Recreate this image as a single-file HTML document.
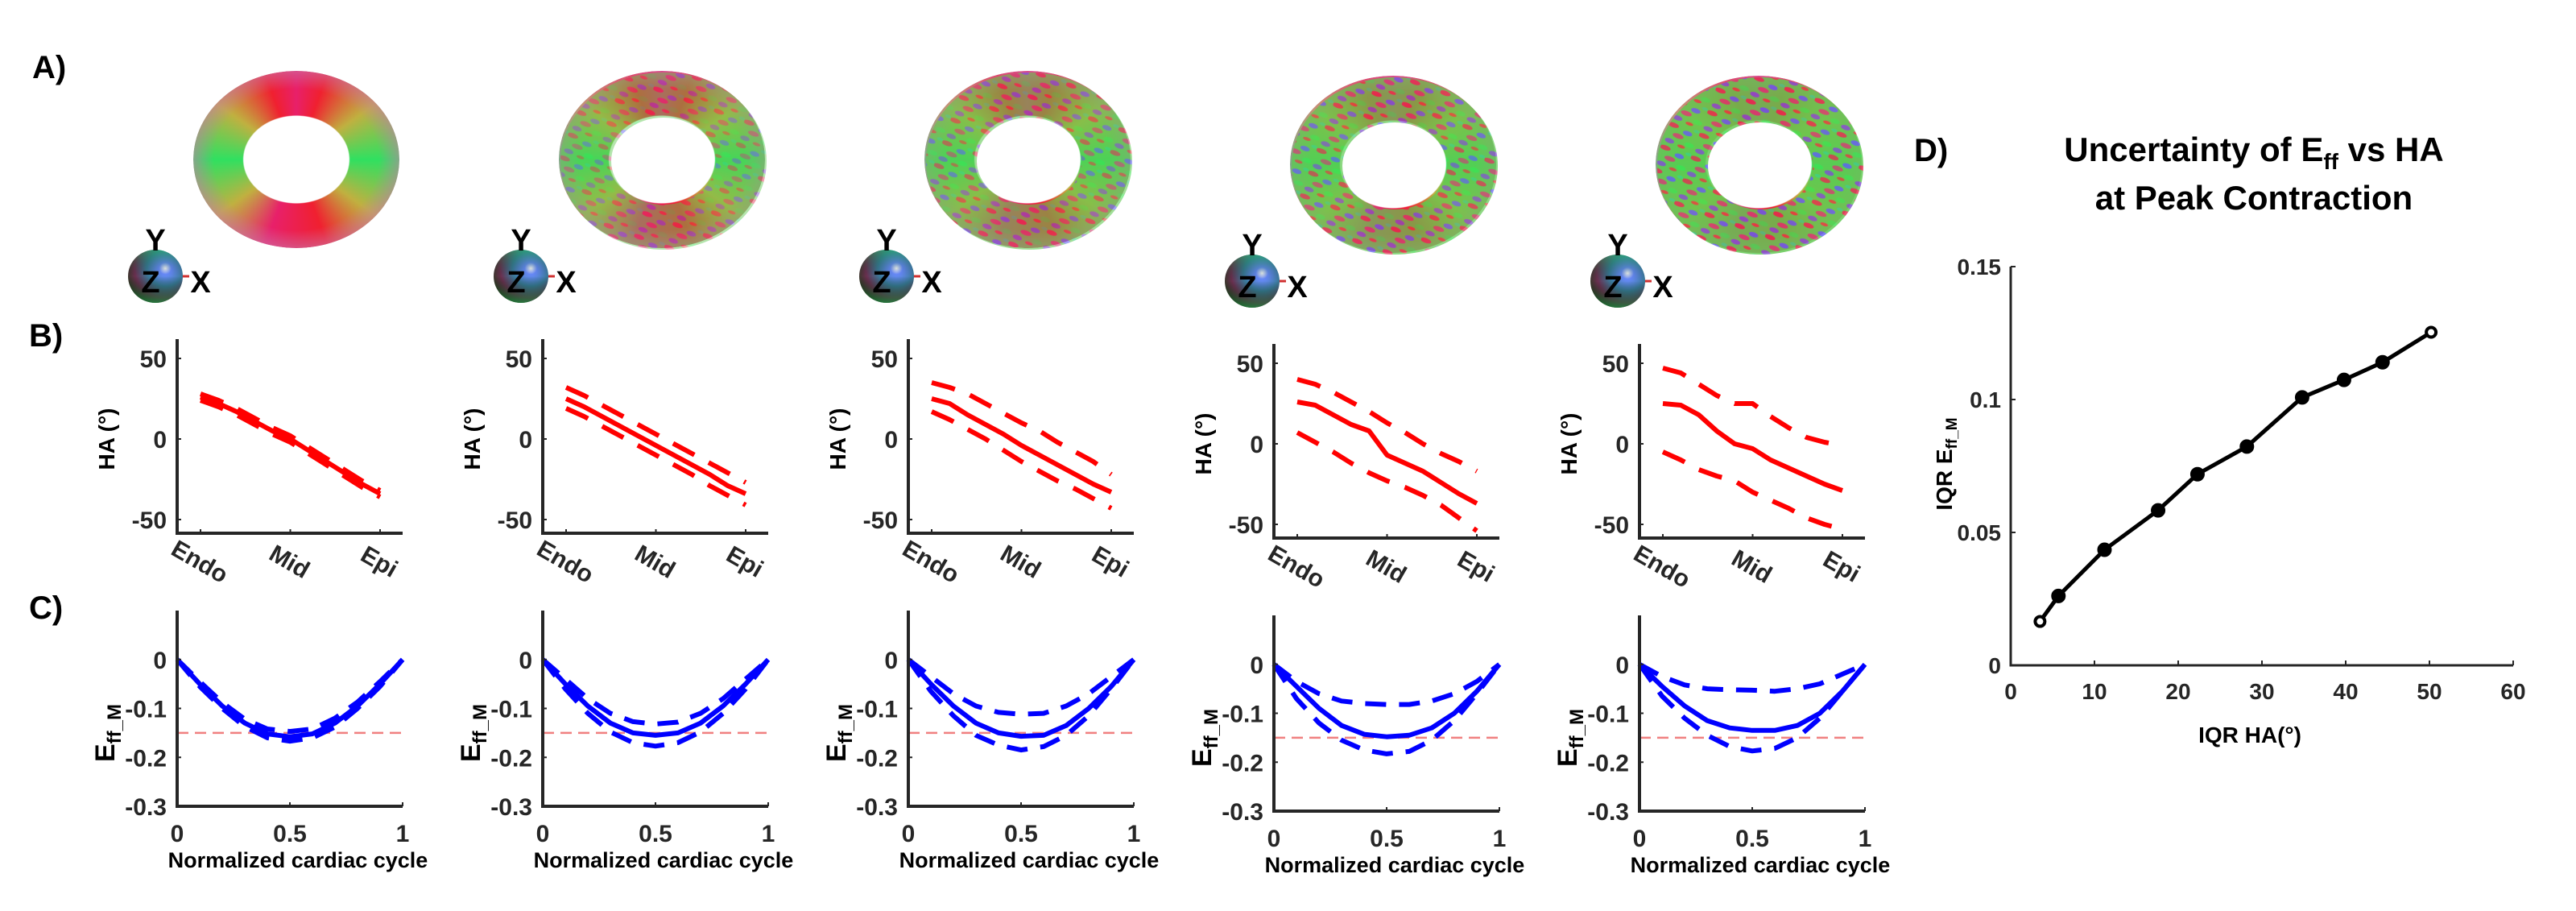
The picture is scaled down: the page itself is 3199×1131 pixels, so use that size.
<!DOCTYPE html>
<html><head><meta charset="utf-8">
<style>
html,body{margin:0;padding:0;background:#fff;}
svg{display:block;font-family:"Liberation Sans",Arial,sans-serif;}
.tk{font-size:30px;font-weight:bold;fill:#262626;}
.lbl{font-size:30px;font-weight:bold;fill:#000;}
.pl{font-size:40px;font-weight:bold;fill:#000;}
</style></head>
<body>
<svg id="fig" width="3199" height="1131" viewBox="0 0 3199 1131" xmlns="http://www.w3.org/2000/svg">
<defs>
<radialGradient id="sph" cx="0.68" cy="0.35" r="0.75">
<stop offset="0" stop-color="#ffffff"/>
<stop offset="0.15" stop-color="#6a8cff"/>
<stop offset="0.45" stop-color="#3a7a9a"/>
<stop offset="0.75" stop-color="#6a3050"/>
<stop offset="1" stop-color="#2a3a20"/>
</radialGradient>
<linearGradient id="sphg" x1="0" y1="0" x2="0" y2="1">
<stop offset="0" stop-color="#20c060" stop-opacity="0.5"/>
<stop offset="0.5" stop-color="#000" stop-opacity="0"/>
<stop offset="1" stop-color="#10a040" stop-opacity="0.6"/>
</linearGradient>
<pattern id="noise" width="40" height="30" patternUnits="userSpaceOnUse" patternTransform="rotate(20)">
<rect width="40" height="30" fill="#60c850"/>
<ellipse cx="6" cy="5" rx="7" ry="3" fill="#e03050"/>
<ellipse cx="26" cy="9" rx="6" ry="3" fill="#6060f0"/>
<ellipse cx="16" cy="16" rx="7" ry="3" fill="#d04070"/>
<ellipse cx="33" cy="22" rx="6" ry="3" fill="#40e050"/>
<ellipse cx="8" cy="25" rx="6" ry="3" fill="#8050d0"/>
<ellipse cx="24" cy="27" rx="5" ry="2" fill="#e04040"/>
<ellipse cx="36" cy="3" rx="4" ry="2" fill="#40d080"/>
</pattern>
</defs>
<text class="pl" x="40" y="97">A)</text>
<text class="pl" x="36" y="430">B)</text>
<text class="pl" x="36" y="768">C)</text>
<text class="pl" x="2377" y="200">D)</text>
<text x="2799" y="200" text-anchor="middle" style="font-size:42px;font-weight:bold">Uncertainty of E<tspan font-size="28" dy="10">ff</tspan><tspan dy="-10"> vs HA</tspan></text>
<text x="2799" y="260" text-anchor="middle" style="font-size:42px;font-weight:bold">at Peak Contraction</text>
<g id="tori"></g>
<g id="charts"></g>
</svg>
<script>
// ---- Panel B data (HA vs transmural depth) ----
const depthPos = [0,0.1,0.2,0.3,0.4,0.5,0.6,0.7,0.8,0.9,1];
const haTicks = [-50,0,50];
const depthLabels = ["Endo","Mid","Epi"];
const haMean1 = [26,22,17,11,5,0,-7,-14,-21,-28,-34];
const haUp1   = [28,24,19,13,7,2,-5,-12,-19,-26,-32];
const haLo1   = [24,20,15,9,3,-2,-9,-16,-23,-30,-36];
const haMean2 = [25,20,14,8,2,-4,-10,-16,-22,-29,-34];
const haUp2   = [32,27,21,15,9,3,-3,-9,-15,-21,-27];
const haLo2   = [19,14,8,2,-4,-10,-16,-22,-29,-35,-41];
const haMean3 = [25,22,15,9,3,-4,-10,-16,-22,-28,-33];
const haUp3   = [35,32,28,22,16,10,5,-2,-8,-14,-22];
const haLo3   = [17,12,6,0,-7,-14,-20,-26,-31,-37,-43];
const haMean4 = [26,24,18,12,8,-7,-12,-17,-24,-31,-37];
const haUp4   = [40,37,32,26,20,13,7,0,-6,-11,-17];
const haLo4   = [7,1,-5,-12,-18,-23,-27,-32,-38,-46,-54];
const haMean5 = [25,24,18,8,0,-3,-10,-15,-20,-25,-29];
const haUp5   = [47,44,37,30,25,25,17,10,4,1,-1];
const haLo5   = [-5,-10,-16,-20,-23,-30,-35,-40,-46,-50,-53];
// ---- Panel C data (Eff_M vs normalized cardiac cycle) ----
const cyclePos = [0,0.1,0.2,0.3,0.4,0.5,0.6,0.7,0.8,0.9,1];
const effTicks = [-0.3,-0.2,-0.1,0];
const cycleTicks = [0,0.5,1];
const effThreshold = -0.15;
const effMean1 = [0,-0.05,-0.095,-0.13,-0.152,-0.158,-0.152,-0.13,-0.095,-0.05,0];
const effUp1   = [0,-0.045,-0.088,-0.122,-0.142,-0.147,-0.142,-0.12,-0.087,-0.045,0];
const effLo1   = [0,-0.055,-0.1,-0.137,-0.16,-0.167,-0.16,-0.138,-0.1,-0.055,0];
const effMean2 = [0,-0.05,-0.095,-0.13,-0.15,-0.155,-0.15,-0.13,-0.095,-0.05,0];
const effUp2   = [0,-0.04,-0.08,-0.11,-0.127,-0.132,-0.128,-0.11,-0.08,-0.04,0];
const effLo2   = [0,-0.06,-0.11,-0.148,-0.17,-0.177,-0.17,-0.148,-0.11,-0.06,0];
const effMean3 = [0,-0.05,-0.095,-0.13,-0.15,-0.157,-0.155,-0.135,-0.1,-0.055,0];
const effUp3   = [0,-0.035,-0.07,-0.095,-0.108,-0.112,-0.11,-0.095,-0.07,-0.035,0];
const effLo3   = [0,-0.065,-0.115,-0.155,-0.175,-0.185,-0.178,-0.155,-0.115,-0.06,0];
const effMean4 = [0,-0.045,-0.09,-0.125,-0.143,-0.148,-0.145,-0.13,-0.1,-0.055,0];
const effUp4   = [0,-0.035,-0.06,-0.075,-0.08,-0.082,-0.082,-0.075,-0.06,-0.035,0];
const effLo4   = [0,-0.07,-0.12,-0.155,-0.175,-0.183,-0.178,-0.155,-0.115,-0.06,0];
const effMean5 = [0,-0.045,-0.085,-0.115,-0.13,-0.135,-0.135,-0.125,-0.1,-0.055,0];
const effUp5   = [0,-0.025,-0.042,-0.05,-0.052,-0.053,-0.055,-0.05,-0.04,-0.02,0];
const effLo5   = [0,-0.065,-0.11,-0.145,-0.168,-0.177,-0.172,-0.15,-0.11,-0.055,0];
// ---- Panel D data ----
const iqrHA  = [3.5,5.7,11.2,17.6,22.3,28.2,34.8,39.8,44.4,50.2];
const iqrEff = [0.0165,0.0261,0.0435,0.0583,0.0719,0.0823,0.1008,0.1074,0.114,0.1253];
const dXTicks = [0,10,20,30,40,50,60];
const dYTicks = [0,0.05,0.1,0.15];

const NS="http://www.w3.org/2000/svg";
const charts=document.getElementById('charts');
function mk(tag,attrs,parent){const e=document.createElementNS(NS,tag);for(const k in attrs)e.setAttribute(k,attrs[k]);(parent||charts).appendChild(e);return e;}
function pathD(xs,ys,fx,fy){return xs.map((x,i)=>(i?'L':'M')+fx(x).toFixed(1)+' '+fy(ys[i]).toFixed(1)).join(' ');}

const haSets=[[haMean1,haUp1,haLo1],[haMean2,haUp2,haLo2],[haMean3,haUp3,haLo3],[haMean4,haUp4,haLo4],[haMean5,haUp5,haLo5]];
const effSets=[[effMean1,effUp1,effLo1],[effMean2,effUp2,effLo2],[effMean3,effUp3,effLo3],[effMean4,effUp4,effLo4],[effMean5,effUp5,effLo5]];
const panelX=[220,674,1128,1582,2036];
const panelDY=[0,0,0,6,6];
const tori=document.getElementById('tori');

for(let p=0;p<5;p++){
  const X0=panelX[p], W=280, dy=panelDY[p];
  const tg=mk('g',{},tori);
  
  
  const cx=X0+150, cy=200+dy;
  const fo=mk('foreignObject',{x:cx-130,y:cy-112,width:260,height:224},tg);
  const d=document.createElement('div');
  d.style.cssText=`width:256px;height:220px;border-radius:50%;background:radial-gradient(ellipse 50% 50% at 50% 50%, rgba(0,0,0,0) 80%, rgba(200,120,170,0.55) 100%),conic-gradient(#e8206a 0deg,#f02030 20deg,#c0b040 55deg,#30e060 90deg,#c0b040 125deg,#f02030 160deg,#e8206a 200deg,#c0b040 235deg,#30e060 270deg,#c0b040 305deg,#f02030 340deg,#e8206a 360deg);-webkit-mask:radial-gradient(ellipse 51% 49% at 50% 50%, transparent 0 50%, #000 51%);mask:radial-gradient(ellipse 51% 49% at 50% 50%, transparent 0 50%, #000 51%);`;
  fo.appendChild(d);
  if(p>0){
    const ring=`M${cx-128} ${cy} a128 110 0 1 0 256 0 a128 110 0 1 0 -256 0 Z M${cx-65} ${cy} a65 54 0 1 0 130 0 a65 54 0 1 0 -130 0 Z`;
    mk('path',{d:ring,'fill-rule':'evenodd',fill:'url(#noise)',opacity:(0.35+p*0.12).toFixed(2)},tg);
  }
  const sg=mk('g',{},tori);
  
  
  const sx=X0-27, sy=343+dy;
  mk('line',{x1:sx+30,y1:sy,x2:sx+42,y2:sy,stroke:'#d03030','stroke-width':3},sg);
  mk('ellipse',{cx:sx,cy:sy,rx:34,ry:33,fill:'url(#sph)'},sg);
  mk('ellipse',{cx:sx,cy:sy,rx:34,ry:33,fill:'url(#sphg)'},sg);
  const ty=mk('text',{x:sx,y:sy-32,'text-anchor':'middle',style:'font-size:38px;font-weight:bold'},sg);ty.textContent='Y';
  const tz=mk('text',{x:sx-6,y:sy+20,'text-anchor':'middle',style:'font-size:38px;font-weight:bold'},sg);tz.textContent='Z';
  const tx=mk('text',{x:sx+56,y:sy+20,'text-anchor':'middle',style:'font-size:38px;font-weight:bold'},sg);tx.textContent='X';

  const bTop=421+dy, bBot=662+dy;
  const byf=v=>545+dy-2.0*v;
  const bxf=t=>X0+29+t*223;
  const gb=mk('g',{});
  
  
  const set=haSets[p];
  const styles=[{},{'stroke-dasharray':'30 20'},{'stroke-dasharray':'30 20'}];
  set.forEach((arr,i)=>{
    const pa=mk('path',Object.assign({d:pathD(depthPos,arr,bxf,byf),fill:'none',stroke:'#ff0000','stroke-width':6,'stroke-linejoin':'round'},styles[i]),gb);
    
    
  });
  mk('path',{d:`M${X0} ${bTop} V${bBot} H${X0+W}`,fill:'none',stroke:'#262626','stroke-width':4},gb);
  haTicks.forEach(v=>{
    mk('line',{x1:X0,y1:byf(v),x2:X0+5,y2:byf(v),stroke:'#262626','stroke-width':2},gb);
    const t=mk('text',{class:'tk',x:X0-13,y:byf(v)+11,'text-anchor':'end'},gb);t.textContent=String(v);
  });
  depthLabels.forEach((s,i)=>{
    const x=bxf(i/2);
    mk('line',{x1:x,y1:bBot,x2:x,y2:bBot-5,stroke:'#262626','stroke-width':2},gb);
    const t=mk('text',{class:'tk',x:x-6,y:bBot+44,'text-anchor':'middle',transform:`rotate(30 ${x-6} ${bBot+44})`},gb);t.textContent=s;
  });
  const hl=mk('text',{class:'lbl',x:X0-78,y:545+dy,'text-anchor':'middle',transform:`rotate(-90 ${X0-78} ${545+dy})`,style:'font-size:28px'},gb);hl.textContent='HA (°)';

  const cTop=758+dy, cBot=1001+dy;
  const cyf=v=>cBot-(v+0.3)/0.4*(cBot-cTop);
  const cxf=t=>X0+t*W;
  const gc=mk('g',{});
  
  
  const th=mk('line',{x1:X0,y1:cyf(effThreshold),x2:X0+W,y2:cyf(effThreshold),stroke:'#f08080','stroke-width':2.5,'stroke-dasharray':'14 8'},gc);
  
  
  effSets[p].forEach((arr,i)=>{
    const pa=mk('path',Object.assign({d:pathD(cyclePos,arr,cxf,cyf),fill:'none',stroke:'#0000ff','stroke-width':6,'stroke-linejoin':'round'},i?{'stroke-dasharray':'26 16'}:{}),gc);
    
    
  });
  mk('path',{d:`M${X0} ${cTop} V${cBot} H${X0+W}`,fill:'none',stroke:'#262626','stroke-width':4},gc);
  effTicks.forEach(v=>{
    mk('line',{x1:X0,y1:cyf(v),x2:X0+5,y2:cyf(v),stroke:'#262626','stroke-width':2},gc);
    const t=mk('text',{class:'tk',x:X0-13,y:cyf(v)+11,'text-anchor':'end'},gc);t.textContent=String(v);
  });
  cycleTicks.forEach(v=>{
    mk('line',{x1:cxf(v),y1:cBot,x2:cxf(v),y2:cBot-5,stroke:'#262626','stroke-width':2},gc);
    const t=mk('text',{class:'tk',x:cxf(v),y:cBot+44,'text-anchor':'middle'},gc);t.textContent=String(v);
  });
  const xl=mk('text',{class:'lbl',x:X0+W/2+10,y:1077+dy,'text-anchor':'middle',style:'font-size:27px'},gc);xl.textContent='Normalized cardiac cycle';
  const ylx=X0-78, yly=910+dy;
  const yl=mk('text',{class:'lbl',x:ylx,y:yly,'text-anchor':'middle',transform:`rotate(-90 ${ylx} ${yly})`,style:'font-size:34px'},gc);
  yl.innerHTML='E<tspan font-size="24" dy="8">ff_M</tspan>';
}

const DX0=2497, DX1=3121, DY0=826, DY1=331;
const dxf=v=>DX0+v/60*(DX1-DX0);
const dyf=v=>DY0-v/0.15*(DY0-DY1);
const gd=mk('g',{});


mk('path',{d:`M${DX0} ${DY1} V${DY0} H${DX1}`,fill:'none',stroke:'#262626','stroke-width':3},gd);
dXTicks.forEach(v=>{
  mk('line',{x1:dxf(v),y1:DY0,x2:dxf(v),y2:DY0-6,stroke:'#262626','stroke-width':2},gd);
  const t=mk('text',{class:'tk',x:dxf(v),y:DY0+42,'text-anchor':'middle',style:'font-size:28px'},gd);t.textContent=String(v);
});
dYTicks.forEach(v=>{
  mk('line',{x1:DX0,y1:dyf(v),x2:DX0+6,y2:dyf(v),stroke:'#262626','stroke-width':2},gd);
  const t=mk('text',{class:'tk',x:DX0-12,y:dyf(v)+10,'text-anchor':'end',style:'font-size:28px'},gd);t.textContent=String(v);
});
const dl=mk('path',{d:pathD(iqrHA,iqrEff,dxf,dyf),fill:'none',stroke:'#000','stroke-width':5},gd);


iqrHA.forEach((v,i)=>{
  const hollow=(i===0||i===iqrHA.length-1);
  const c=mk('circle',{cx:dxf(v),cy:dyf(iqrEff[i]),r:hollow?6:8,fill:hollow?'#fff':'#000',stroke:'#000','stroke-width':hollow?4:2},gd);
  
  
});
const dxl=mk('text',{x:2794,y:922,'text-anchor':'middle',style:'font-size:28px;font-weight:bold'},gd);dxl.textContent='IQR HA(°)';
const dyl=mk('text',{x:2424,y:576,'text-anchor':'middle',transform:'rotate(-90 2424 576)',style:'font-size:28px;font-weight:bold'},gd);
dyl.innerHTML='IQR E<tspan font-size="19" dy="6">ff_M</tspan>';
</script>
</body></html>
